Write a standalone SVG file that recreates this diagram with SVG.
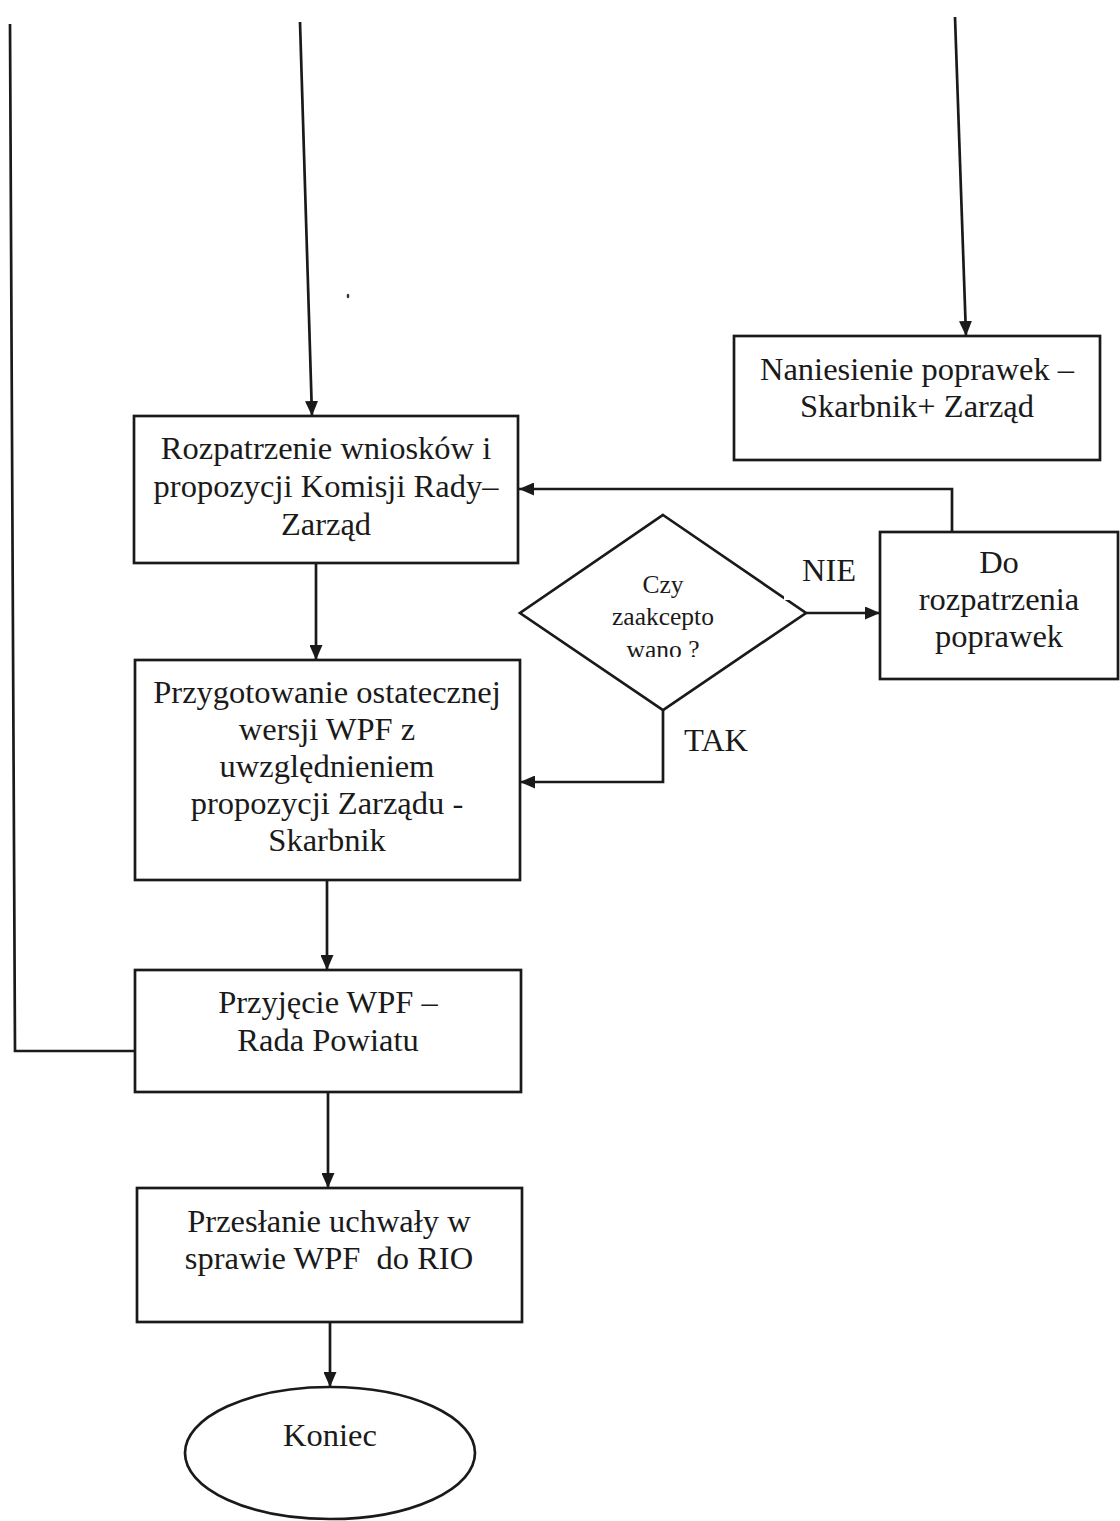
<svg xmlns="http://www.w3.org/2000/svg" width="1120" height="1521" viewBox="0 0 1120 1521">
  <style>
    .box { fill: #fff; stroke: #1a1a1a; stroke-width: 2.7; }
    .edge { fill: none; stroke: #1a1a1a; stroke-width: 2.7; }
    .lbl { font-family: "Liberation Serif", "Times New Roman", serif; font-size: 32.5px; fill: #1a1a1a; text-anchor: middle; }
    .small { font-size: 25.5px; }
  </style>
  <defs>
    <marker id="arrow" viewBox="0 0 15 13" refX="15" refY="6.5" markerWidth="15" markerHeight="13" markerUnits="userSpaceOnUse" orient="auto">
      <path d="M0,0 L15,6.5 L0,13 Z" fill="#1a1a1a"/>
    </marker>
    <clipPath id="diamondText">
      <rect x="560" y="560" width="210" height="97"/>
    </clipPath>
  </defs>

  <rect width="1120" height="1521" fill="#fff"/>

  <!-- connectors -->
  <g id="connectors">
    <polyline class="edge" points="10,24 15,1051 135,1051"/>
    <line class="edge" x1="300" y1="22" x2="312" y2="416" marker-end="url(#arrow)"/>
    <line class="edge" x1="955" y1="17" x2="966" y2="336" marker-end="url(#arrow)"/>
    <line class="edge" x1="316" y1="563" x2="316" y2="660" marker-end="url(#arrow)"/>
    <line class="edge" x1="327" y1="880" x2="327" y2="970" marker-end="url(#arrow)"/>
    <line class="edge" x1="328" y1="1092" x2="328" y2="1188" marker-end="url(#arrow)"/>
    <line class="edge" x1="330" y1="1314" x2="330" y2="1387" marker-end="url(#arrow)"/>
    <line class="edge" x1="806" y1="613" x2="880" y2="613" marker-end="url(#arrow)"/>
    <polyline class="edge" points="952,532 952,489 519,489" marker-end="url(#arrow)"/>
    <polyline class="edge" points="663,710 663,782 520,782" marker-end="url(#arrow)"/>
  </g>

  <!-- nodes -->
  <g id="naniesienie">
    <rect class="box" x="734" y="336" width="366" height="124"/>
    <text class="lbl" x="917" y="380">Naniesienie poprawek –</text>
    <text class="lbl" x="917" y="417">Skarbnik+ Zarząd</text>
  </g>

  <g id="rozpatrzenie">
    <rect class="box" x="134" y="416" width="384" height="147"/>
    <text class="lbl" x="326" y="459">Rozpatrzenie wniosków i</text>
    <text class="lbl" x="326" y="497">propozycji Komisji Rady–</text>
    <text class="lbl" x="326" y="535">Zarząd</text>
  </g>

  <g id="decyzja">
    <polygon class="box" points="663,515 806,613 663,710 520,613"/>
    <g clip-path="url(#diamondText)">
      <text class="lbl small" x="663" y="593">Czy</text>
      <text class="lbl small" x="663" y="625">zaakcepto</text>
      <text class="lbl small" x="663" y="658">wano ?</text>
    </g>
  </g>

  <g id="label-nie">
    <rect x="784" y="545" width="86" height="55" fill="#fff"/>
    <text class="lbl" x="829" y="581">NIE</text>
  </g>

  <g id="label-tak">
    <text class="lbl" x="716" y="751">TAK</text>
  </g>

  <g id="do-rozpatrzenia">
    <rect class="box" x="880" y="532" width="238" height="147"/>
    <text class="lbl" x="999" y="573">Do</text>
    <text class="lbl" x="999" y="610">rozpatrzenia</text>
    <text class="lbl" x="999" y="647">poprawek</text>
  </g>

  <g id="przygotowanie">
    <rect class="box" x="135" y="660" width="385" height="220"/>
    <text class="lbl" x="327" y="703">Przygotowanie ostatecznej</text>
    <text class="lbl" x="327" y="740">wersji WPF z</text>
    <text class="lbl" x="327" y="777">uwzględnieniem</text>
    <text class="lbl" x="327" y="814">propozycji Zarządu -</text>
    <text class="lbl" x="327" y="851">Skarbnik</text>
  </g>

  <g id="przyjecie">
    <rect class="box" x="135" y="970" width="386" height="122"/>
    <text class="lbl" x="328" y="1013">Przyjęcie WPF –</text>
    <text class="lbl" x="328" y="1051">Rada Powiatu</text>
  </g>

  <g id="przeslanie">
    <rect class="box" x="137" y="1188" width="385" height="134"/>
    <text class="lbl" x="329" y="1232">Przesłanie uchwały w</text>
    <text class="lbl" x="329" y="1269" xml:space="preserve">sprawie WPF  do RIO</text>
  </g>

  <g id="koniec">
    <ellipse class="box" cx="330" cy="1453" rx="145" ry="66"/>
    <text class="lbl" x="330" y="1446">Koniec</text>
  </g>

  <!-- speck on the sheet -->
  <ellipse cx="348" cy="296" rx="1.3" ry="2.3" fill="#333"/>
</svg>
